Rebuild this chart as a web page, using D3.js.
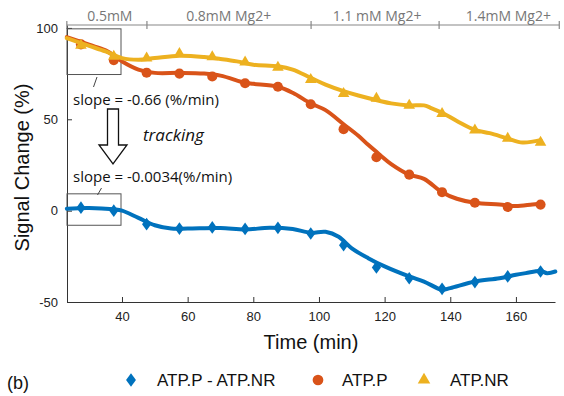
<!DOCTYPE html>
<meta charset="utf-8">
<style>
body { margin: 0; background: #fff; }
svg { display: block; }
.tick text { font: 13px "Liberation Sans", Arial, sans-serif; fill: #222; }
.note { font-family: "Open Sans", sans-serif; fill: #111; }
.legend text { font: 17px "Liberation Sans", Arial, sans-serif; fill: #111; }
</style>
<svg width="564" height="396"></svg>
<script src="https://cdn.jsdelivr.net/npm/d3@7/dist/d3.min.js"></script>
<script>
// marker samples (every 10 min)
var markerTimes = [27.5, 37.5, 47.5, 57.5, 67.5, 77.5, 87.5, 97.5, 107.5, 117.5, 127.5, 137.5, 147.5, 157.5, 167.5];
var diffMarkers = [1.6, 0, -7.4, -9.8, -9.2, -10, -9.4, -12.5, -18.9, -31.1, -37, -42.8, -39.1, -36, -33.3];
var atpPMarkers = [91, 82.4, 75.5, 75, 73.4, 69.7, 67.8, 58.2, 44.6, 29.2, 19.7, 10.1, 4.3, 2, 3.3];
var atpNRMarkers = [90.4, 84.4, 83.5, 85.9, 84.1, 81.2, 78.4, 71.7, 64, 61.4, 57.6, 53.1, 44, 39.5, 37.3];

// smoothed traces
var diffFitTimes = [23.2, 30, 37.5, 40, 45, 50, 55, 60, 70, 77.5, 85, 92, 97.5, 102, 106, 110, 115, 120, 127.5, 132, 137.5, 140, 147.5, 155, 160, 163, 167.5, 169.5, 172];
var diffFitValues = [1.1, 1.5, 0.7, 0, -4, -8, -9.8, -9.8, -9.5, -10.3, -9.4, -10.1, -12.1, -11.6, -14.3, -20.6, -26, -30.5, -36, -38.8, -43.3, -42.4, -38.8, -37, -35.1, -34.2, -33, -34.2, -33.3];
var atpPFitTimes = [23.2, 30, 35, 40, 45, 50, 57.5, 65, 70, 77.5, 80, 87.5, 92, 97.5, 102, 107.5, 112, 115, 118.6, 122, 127.5, 132, 137.5, 142, 147.5, 155, 160, 165, 167.5];
var atpPFitValues = [95, 90.8, 87.7, 81.7, 77.2, 75.4, 75.4, 75, 73.9, 70, 69.4, 67.8, 64.5, 58.7, 55, 47.3, 41, 36, 30.5, 25.5, 19.7, 17.4, 10.1, 6.5, 4.3, 3.3, 2.5, 3.4, 3.8];
var atpNRFitTimes = [23.2, 30, 35, 40, 45, 50, 57.5, 65, 70, 75, 80, 87.5, 92, 97.5, 102, 107.5, 112, 118.6, 122, 127.5, 132, 134, 137.5, 142, 147.5, 152, 157.5, 162, 167.5];
var atpNRFitValues = [94.4, 90.2, 87.1, 83.5, 82.6, 83.5, 84.8, 84.1, 83, 81.7, 79.9, 79, 77.2, 72.7, 69, 65.4, 63, 60, 58.7, 57.6, 57.6, 56.3, 53.6, 49.1, 44.2, 42.4, 39.5, 37.3, 38.6];

var seriesNames = ["ATP.P - ATP.NR", "ATP.P", "ATP.NR"];
var seriesColors = ["#0072BD", "#D95319", "#EDB120"];

// Mg2+ phases along the top
var phaseBounds = [23.2, 47.6, 97.6, 136.6, 173.2];
var phaseLabels = ["0.5mM", "0.8mM Mg2+", "1.1 mM Mg2+", "1.4mM Mg2+"];
var phaseLabelTimes = [36.3, 72.5, 117.7, 157.7];

var xTicks = [40, 60, 80, 100, 120, 140, 160];
var yTicks = [-50, 0, 50, 100];

var svg = d3.select("svg"),
    margin = {top: 25, right: 9, bottom: 94, left: 67},
    width = svg.attr("width") - margin.left - margin.right,
    height = svg.attr("height") - margin.top - margin.bottom,
    g = svg.append("g").attr("transform", "translate(" + margin.left + "," + margin.top + ")");

var x = d3.scaleLinear().domain([23.25, 171.9]).range([0, width]),
    y = d3.scaleLinear().domain([-50, 101.6]).range([height, 0]);

var line = d3.line()
    .curve(d3.curveCatmullRom.alpha(0.5))
    .x(function(d) { return x(d[0]); })
    .y(function(d) { return y(d[1]); });

// matlab-ish diamond: a bit wider than d3's
var fatDiamond = {
  draw: function(ctx, size) {
    var h = Math.sqrt(size / 1.44), w = h * 0.72;
    ctx.moveTo(0, -h); ctx.lineTo(w, 0); ctx.lineTo(0, h); ctx.lineTo(-w, 0); ctx.closePath();
  }
};

var series = [
  {fit: d3.zip(diffFitTimes, diffFitValues), pts: d3.zip(markerTimes, diffMarkers), sym: fatDiamond, size: 58},
  {fit: d3.zip(atpPFitTimes, atpPFitValues), pts: d3.zip(markerTimes, atpPMarkers), sym: d3.symbolCircle, size: 80},
  {fit: d3.zip(atpNRFitTimes, atpNRFitValues), pts: d3.zip(markerTimes, atpNRMarkers), sym: d3.symbolTriangle, size: 58}
];

function plain(d) { return String(d); } // keep ascii hyphen for negatives

// axes
g.append("g")
    .attr("transform", "translate(0," + height + ")")
    .call(d3.axisBottom(x).tickValues(xTicks).tickFormat(plain).tickSizeInner(-5).tickSizeOuter(0).tickPadding(10))
    .call(function(a) { a.select(".domain").attr("stroke", "#333"); a.selectAll("line").attr("stroke", "#333"); });

g.append("g")
    .call(d3.axisLeft(y).tickValues(yTicks).tickFormat(plain).tickSizeInner(-5).tickSizeOuter(0).tickPadding(9))
    .call(function(a) { a.select(".domain").attr("stroke", "#333"); a.selectAll("line").attr("stroke", "#333"); });

// top phase axis
var phaseAxis = g.append("g").attr("class", "phase");
phaseAxis.append("line")
    .attr("x1", x(phaseBounds[0])).attr("x2", x(phaseBounds[phaseBounds.length - 1]))
    .attr("y1", 0).attr("y2", 0)
    .attr("stroke", "#888").attr("stroke-width", 1.2);
phaseAxis.selectAll(".pt")
    .data(phaseBounds)
  .enter().append("line")
    .attr("x1", function(d) { return x(d); }).attr("x2", function(d) { return x(d); })
    .attr("y1", -4).attr("y2", 4)
    .attr("stroke", "#888").attr("stroke-width", 1.2);
phaseAxis.selectAll("text")
    .data(phaseLabels)
  .enter().append("text")
    .attr("x", function(d, i) { return x(phaseLabelTimes[i]); })
    .attr("y", -4)
    .attr("text-anchor", "middle")
    .style("font", "14px 'Open Sans', sans-serif")
    .attr("fill", "#777")
    .text(function(d) { return d; });

// annotation boxes
var boxes = [[23.25, 39.7, 99.5, 74.5], [23.25, 39.7, 9.2, -8]];
g.selectAll(".box")
    .data(boxes)
  .enter().append("rect")
    .attr("x", function(d) { return x(d[0]); })
    .attr("y", function(d) { return y(d[2]); })
    .attr("width", function(d) { return x(d[1]) - x(d[0]); })
    .attr("height", function(d) { return y(d[3]) - y(d[2]); })
    .attr("fill", "none").attr("stroke", "#555").attr("stroke-width", 1);

// lines + markers
series.forEach(function(s, i) {
  g.append("path")
      .datum(s.fit)
      .attr("d", line)
      .attr("fill", "none")
      .attr("stroke", seriesColors[i])
      .attr("stroke-width", 4)
      .attr("stroke-linejoin", "round")
      .attr("stroke-linecap", "round");
  g.selectAll(".m" + i)
      .data(s.pts)
    .enter().append("path")
      .attr("class", "m" + i)
      .attr("transform", function(d) { return "translate(" + x(d[0]) + "," + y(d[1]) + ")"; })
      .attr("d", d3.symbol().type(s.sym).size(s.size))
      .attr("fill", seriesColors[i]);
});

// annotations (svg coords)
svg.append("line").attr("x1", 97).attr("y1", 77).attr("x2", 93.5).attr("y2", 87)
    .attr("stroke", "#444").attr("stroke-width", 1);
svg.append("line").attr("x1", 101.5).attr("y1", 188).attr("x2", 97.5).attr("y2", 195)
    .attr("stroke", "#444").attr("stroke-width", 1);

svg.append("text").attr("class", "note").attr("x", 73).attr("y", 105)
    .style("font-size", "15px").text("slope = -0.66 (%/min)");
svg.append("text").attr("class", "note").attr("x", 73).attr("y", 182)
    .style("font-size", "15px").text("slope = -0.0034(%/min)");
svg.append("text").attr("class", "note").attr("x", 143).attr("y", 141)
    .style("font-size", "17px").style("font-style", "italic").text("tracking");

// hollow arrow
svg.append("path")
    .attr("d", "M107.5,109 L118.5,109 L118.5,145 L127,145 L113,164 L99,145 L107.5,145 Z")
    .attr("fill", "#fff").attr("stroke", "#111").attr("stroke-width", 1.3);

// axis titles
svg.append("text")
    .attr("transform", "translate(29," + (margin.top + height / 2 + 4) + ") rotate(-90)")
    .attr("text-anchor", "middle")
    .style("font", "20px 'Liberation Sans', Arial, sans-serif")
    .attr("fill", "#111")
    .text("Signal Change (%)");

svg.append("text")
    .attr("x", margin.left + width / 2)
    .attr("y", 349)
    .attr("text-anchor", "middle")
    .style("font", "20px 'Liberation Sans', Arial, sans-serif")
    .attr("fill", "#111")
    .text("Time (min)");

svg.append("text")
    .attr("x", 7).attr("y", 389)
    .style("font", "18px 'Liberation Sans', Arial, sans-serif")
    .attr("fill", "#111")
    .text("(b)");

// legend
var legendX = [131, 318, 424];
var legendTextX = [157, 342, 450];
var legend = svg.append("g").attr("class", "legend");
series.forEach(function(s, i) {
  legend.append("path")
      .attr("transform", "translate(" + legendX[i] + ",380)")
      .attr("d", d3.symbol().type(s.sym).size(s.size + 10))
      .attr("fill", seriesColors[i]);
  legend.append("text")
      .attr("x", legendTextX[i]).attr("y", 386)
      .text(seriesNames[i]);
});
</script>
